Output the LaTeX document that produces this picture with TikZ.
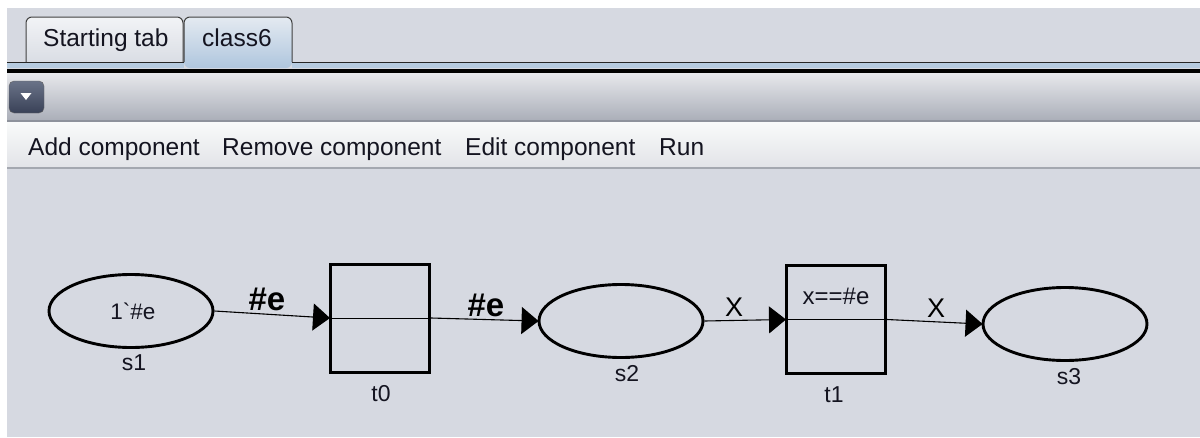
\documentclass[tikz,border=0pt]{standalone}
\usepackage{fontspec}
\setmainfont{Liberation Sans}
\usetikzlibrary{arrows.meta,shapes.geometric}
\definecolor{canvas}{HTML}{D6D9E1}
\definecolor{tabtop}{HTML}{F2F3F6}
\definecolor{tabbot}{HTML}{D9DDE4}
\definecolor{seltop}{HTML}{E4EAF1}
\definecolor{selbot}{HTML}{AFC6DE}
\definecolor{bluestrip}{HTML}{B6CBE0}
\definecolor{tooltop}{HTML}{E7E8EC}
\definecolor{toolbot}{HTML}{ABAFB9}
\definecolor{menutop}{HTML}{F9FAFA}
\definecolor{menubot}{HTML}{E2E4E8}
\definecolor{btntop}{HTML}{6A7388}
\definecolor{btnbot}{HTML}{394157}
\definecolor{sep}{HTML}{8E929C}
\definecolor{ink}{HTML}{141420}
\tikzset{
  place/.style={ellipse, draw=black, line width=2.9pt, minimum width=164pt, minimum height=73pt, inner sep=0pt},
  trans/.style={rectangle, draw=black, line width=3pt, minimum width=99pt, minimum height=108pt, inner sep=0pt},
  arc/.style={draw=black, line width=1.1pt, -{Triangle[length=17pt,width=27pt]}, shorten >=-1pt},
  lbl/.style={text=ink, font=\fontsize{23}{26}\selectfont, inner sep=0pt},
  arclbl/.style={text=black, font=\fontsize{33}{36}\selectfont\bfseries, inner sep=0pt},
  xlbl/.style={text=black, font=\fontsize{27}{30}\selectfont, inner sep=0pt},
  menu/.style={text=ink, font=\fontsize{24.5}{28}\selectfont, inner sep=0pt, anchor=base west},
}
\begin{document}
\begin{tikzpicture}[x=1pt,y=-1pt]
\useasboundingbox (0,0) rectangle (1200,437);
\fill[white] (0,0) rectangle (1200,437);
\fill[canvas] (7,8) rectangle (1200,437);
% tabs
\shade[top color=tabtop, bottom color=tabbot, rounded corners=6pt] (26,63) -- (26,17) -- (183,17) -- (183,63) -- cycle;
\draw[black!75, line width=1pt, rounded corners=6pt] (26,63) -- (26,17) -- (183,17) -- (183,63);
\shade[top color=seltop, bottom color=selbot, rounded corners=6pt] (184,68) -- (184,17) -- (292,17) -- (292,68) -- cycle;
\draw[black!75, line width=1pt, rounded corners=6pt] (184,62) -- (184,17) -- (292,17) -- (292,62);
\node[menu] (tab1) at (43,46) {Starting tab};
\node[menu] (tab2) at (202,46) {class6};
% separators
\draw[black!85, line width=1pt] (7,62.5) -- (184,62.5);
\draw[black!85, line width=1pt] (292,62.5) -- (1200,62.5);
\fill[bluestrip] (7,63) rectangle (184,68);
\fill[bluestrip] (292,63) rectangle (1200,68);
\fill[black] (7,68.5) rectangle (1200,73);
% toolbar
\shade[top color=tooltop, bottom color=toolbot] (7,73) rectangle (1200,120);
\fill[sep] (7,120) rectangle (1200,122);
\shade[top color=btntop, bottom color=btnbot, rounded corners=5pt, draw=black!60] (9,81) rectangle (44,113);
\fill[white] (20.5,93) -- (31.5,93) -- (26,100) -- cycle;
% menu
\shade[top color=menutop, bottom color=menubot] (7,122) rectangle (1200,167);
\fill[sep!80] (7,167) rectangle (1200,169);
\node[menu] (m1) at (28,155) {Add component};
\node[menu] (m2) at (222,155) {Remove component};
\node[menu] (m3) at (465,155) {Edit component};
\node[menu] (m4) at (659,155) {Run};
% net
\node[place] (s1) at (131,311) {};
\node[lbl, font=\fontsize{22.5}{26}\selectfont] (s1m) at (133,311) {1\textasciigrave\#e};
\node[lbl] (s1l) at (134,363) {s1};
\node[trans] (t0) at (380,318) {};
\draw[line width=1pt] (t0.west) -- (t0.east);
\node[lbl] (t0l) at (381,394) {t0};
\node[place] (s2) at (621,321) {};
\node[lbl] (s2l) at (627,374) {s2};
\node[trans] (t1) at (836,319.5) {};
\draw[line width=1pt] (t1.west) -- (t1.east);
\node[lbl, font=\fontsize{24}{26}\selectfont] (t1g) at (836,296) {x==\#e};
\node[lbl] (t1l) at (834,395) {t1};
\node[place] (s3) at (1065,324) {};
\node[lbl] (s3l) at (1069,377) {s3};
% arcs
\draw[arc] (s1.east) -- (t0.west);
\draw[arc] (t0.east) -- (s2.west);
\draw[arc] (s2.east) -- (t1.west);
\draw[arc] (t1.east) -- (s3.west);
\node[arclbl] (a1) at (267,299) {\#e};
\node[arclbl] (a2) at (486,305) {\#e};
\node[xlbl] (a3) at (734,307) {X};
\node[xlbl] (a4) at (936,308) {X};
\end{tikzpicture}
\end{document}
